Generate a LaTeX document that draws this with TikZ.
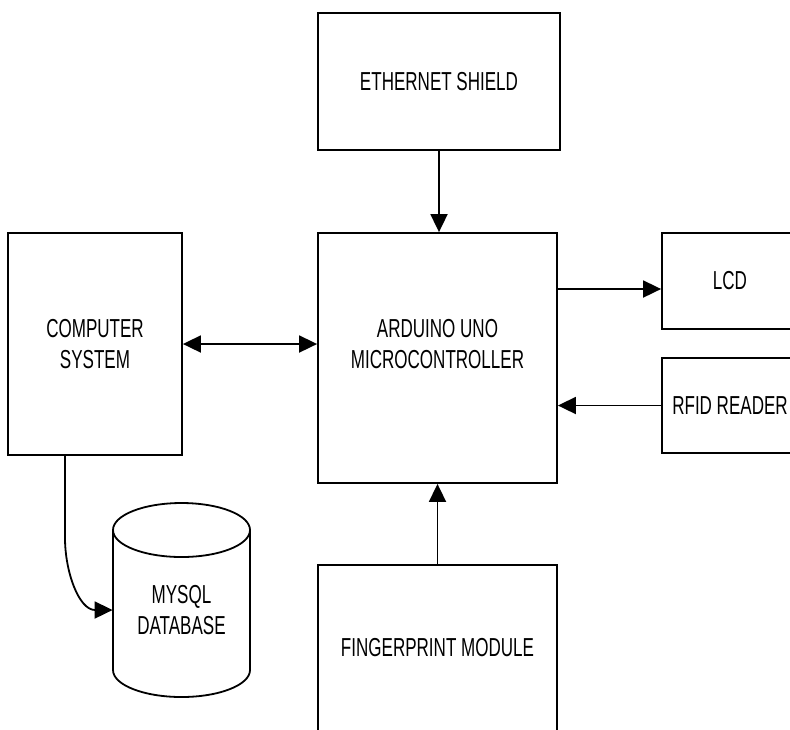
\documentclass[tikz,border=0pt]{standalone}
\usepackage{fontspec}
\setmainfont[FakeStretch=0.655]{Liberation Sans}
\usepackage{tikz}
\usetikzlibrary{arrows.meta,positioning}

\begin{document}
\begin{tikzpicture}[x=0.5pt,y=-0.5pt,
          blk/.style={draw,rectangle,line width=0.9pt,align=center,inner sep=0pt,
                      font=\fontsize{13}{15.5}\selectfont},
          conn/.style={line width=0.9pt,-{Triangle[length=9pt,width=8.5pt]}},
          lbl/.style={align=center,inner sep=0pt,font=\fontsize{13}{15.5}\selectfont}]
        \useasboundingbox (0,0) rectangle (790,729);
        \clip (0,0) rectangle (790,729);
        % blocks
        \node[blk,minimum width=121pt,minimum height=68.5pt]  (eth)  at (439,81.5)  {ETHERNET SHIELD};
        \node[blk,minimum width=119.5pt,minimum height=125pt,text depth=14pt] (ard) at (437.5,358) {ARDUINO UNO\\MICROCONTROLLER};
        \node[blk,minimum width=87pt,minimum height=111pt]    (comp) at (95,344)    {COMPUTER\\SYSTEM};
        \node[blk,minimum width=68pt,minimum height=48pt]     (lcd)  at (730,281)   {LCD};
        \node[blk,minimum width=68pt,minimum height=47.5pt]   (rfid) at (730,405.5) {RFID READER};
        \node[blk,minimum width=119.5pt,minimum height=83pt]  (fp)   at (437.5,648) {FINGERPRINT MODULE};
        % database
        \draw[line width=0.9pt] (181.5,530) ellipse [x radius=34.25pt,y radius=13.5pt];
        \draw[line width=0.9pt] (113,530) -- (113,670)
              arc[start angle=180,end angle=360,x radius=34.25pt,y radius=13.5pt] -- (250,530);
        \node[lbl,minimum width=68.5pt] (db) at (181.5,610) {MYSQL\\DATABASE};
        % connections
        \draw[conn] (eth.south) -- (eth.south |- ard.north);
        \draw[conn,{Triangle[length=9pt,width=8.5pt]}-{Triangle[length=9pt,width=8.5pt]}] (comp.east) -- (comp.east -| ard.west);
        \draw[conn] ([yshift=-4pt]lcd.west -| ard.east) -- ([yshift=-4pt]lcd.west);
        \draw[conn] (rfid.west) -- (rfid.west -| ard.east);
        \draw[conn] (fp.north) -- (fp.north |- ard.south);
        \draw[conn] ([xshift=-15pt]comp.south) -- ++(0,82) to[out=-90,in=180] (db.west);
      \end{tikzpicture}
\end{document}
